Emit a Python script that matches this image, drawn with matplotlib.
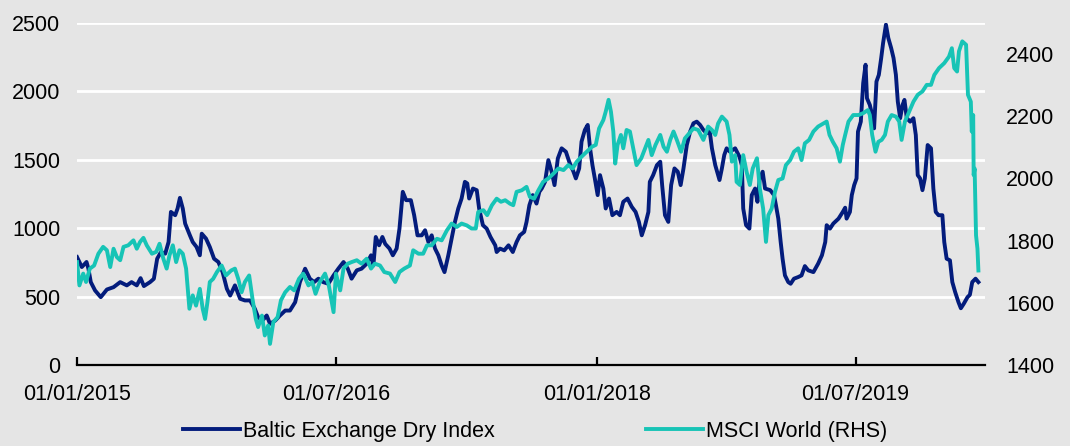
import matplotlib
matplotlib.use('Agg')
import matplotlib.pyplot as plt
import pandas as pd

start_date = pd.Timestamp('2015-01-01')
end_date = pd.Timestamp('2020-03-30')

# Baltic Exchange Dry Index (left axis) - days since 1 Jan 2015, values
bdi_day = [0, 10, 20, 24, 29, 38, 50, 63, 77, 91, 105, 115, 126, 134, 141, 154, 162, 169, 177, 186,
           193, 198, 207, 212, 217, 223, 228, 238, 244, 252, 259, 263, 272, 280, 289, 298, 307, 316, 323, 333,
           344, 354, 365, 375, 382, 391, 400, 407, 418, 428, 439, 449, 460, 470, 481, 491, 500, 509, 519, 530,
           541, 551, 562, 571, 579, 590, 600, 611, 620, 625, 630, 637, 644, 650, 659, 666, 674, 680, 687, 694,
           704, 711, 718, 727, 734, 741, 748, 755, 762, 769, 775, 783, 790, 797, 804, 811, 818, 823, 827, 835,
           843, 848, 856, 864, 872, 882, 885, 892, 901, 910, 919, 927, 934, 943, 948, 954, 961, 969, 975, 980,
           987, 994, 1001, 1007, 1014, 1022, 1031, 1038, 1047, 1052, 1059, 1064, 1071, 1077, 1082, 1087, 1092, 1098, 1103, 1110,
           1115, 1122, 1129, 1138, 1145, 1152, 1161, 1170, 1178, 1185, 1191, 1198, 1205, 1208, 1215, 1223, 1230, 1234, 1240, 1247,
           1253, 1260, 1267, 1273, 1279, 1286, 1293, 1300, 1307, 1314, 1321, 1328, 1334, 1339, 1346, 1355, 1360, 1365, 1370, 1377,
           1388, 1397, 1402, 1405, 1411, 1418, 1423, 1430, 1435, 1440, 1446, 1451, 1462, 1470, 1474, 1479, 1484, 1488, 1493, 1500,
           1505, 1512, 1521, 1528, 1535, 1542, 1553, 1563, 1571, 1578, 1581, 1588, 1595, 1606, 1615, 1620, 1623, 1630, 1634, 1639,
           1644, 1647, 1653, 1658, 1663, 1666, 1672, 1677, 1681, 1686, 1691, 1696, 1700, 1706, 1711, 1717, 1722, 1727, 1731, 1736,
           1741, 1745, 1750, 1757, 1764, 1769, 1773, 1778, 1783, 1788, 1794, 1801, 1806, 1811, 1817, 1825, 1829, 1834, 1841, 1846,
           1852, 1859, 1864, 1870, 1878, 1883, 1888, 1895, 1901]
bdi_val = [789, 716, 753, 704, 606, 545, 496, 552, 569, 606, 582, 606, 582, 635, 577, 606, 630, 777, 826, 814,
           899, 1119, 1095, 1144, 1222, 1144, 1034, 948, 899, 863, 802, 960, 924, 863, 777, 753, 679, 557, 508, 582,
           484, 472, 472, 411, 349, 325, 362, 301, 325, 362, 398, 398, 459, 606, 704, 631, 606, 631, 606, 594,
           655, 704, 753, 704, 631, 692, 704, 741, 802, 728, 936, 875, 936, 885, 851, 802, 851, 997, 1266, 1205,
           1205, 1095, 948, 948, 985, 899, 948, 851, 802, 728, 679, 802, 924, 1046, 1144, 1217, 1339, 1327, 1217, 1290,
           1278, 1144, 1022, 997, 936, 875, 826, 851, 838, 875, 826, 899, 948, 973, 1046, 1168, 1242, 1180, 1266, 1290,
           1339, 1498, 1413, 1315, 1510, 1584, 1559, 1486, 1413, 1364, 1437, 1633, 1718, 1755, 1584, 1461, 1364, 1242, 1388, 1290,
           1144, 1217, 1095, 1119, 1095, 1193, 1217, 1156, 1119, 1046, 948, 1022, 1119, 1339, 1388, 1461, 1486, 1315, 1095, 1046,
           1315, 1437, 1413, 1315, 1437, 1608, 1706, 1767, 1779, 1755, 1718, 1694, 1718, 1584, 1461, 1352, 1437, 1535, 1584, 1559,
           1584, 1523, 1461, 1144, 1022, 997, 1242, 1290, 1193, 1364, 1413, 1290, 1278, 1242, 1168, 1070, 899, 777, 655, 606,
           594, 631, 643, 655, 723, 692, 679, 741, 802, 899, 1022, 997, 1034, 1070, 1119, 1150, 1070, 1119, 1242, 1315,
           1364, 1706, 1779, 2060, 2195, 1950, 1901, 1828, 1730, 2072, 2121, 2244, 2354, 2488, 2390, 2317, 2244, 2121, 1926, 1804,
           1901, 1938, 1804, 1779, 1804, 1681, 1388, 1364, 1278, 1364, 1608, 1584, 1290, 1119, 1095, 1095, 899, 777, 765, 606,
           533, 459, 415, 447, 496, 513, 606, 631, 606]

# MSCI World (right axis) - days since 1 Jan 2015, values
msci_day = [0, 5, 13, 19, 27, 36, 45, 55, 63, 70, 77, 84, 91, 98, 108, 119, 126, 133, 140, 147,
            158, 167, 174, 182, 189, 195, 202, 209, 216, 223, 230, 237, 244, 251, 259, 265, 270, 275, 280, 287,
            295, 305, 314, 325, 333, 340, 347, 354, 363, 370, 377, 382, 390, 396, 403, 407, 414, 423, 430, 439,
            449, 458, 468, 477, 488, 496, 503, 512, 523, 531, 541, 546, 555, 562, 571, 579, 590, 600, 611, 620,
            628, 639, 648, 660, 671, 680, 690, 702, 709, 720, 730, 738, 748, 759, 769, 780, 790, 801, 811, 822,
            832, 841, 846, 857, 865, 875, 885, 894, 903, 913, 920, 927, 938, 948, 955, 964, 973, 983, 994, 1005,
            1015, 1026, 1036, 1045, 1054, 1064, 1075, 1086, 1094, 1101, 1110, 1115, 1121, 1126, 1131, 1135, 1140, 1147, 1152, 1159,
            1166, 1173, 1180, 1190, 1198, 1205, 1212, 1220, 1230, 1237, 1244, 1251, 1258, 1265, 1274, 1282, 1291, 1300, 1310, 1321,
            1331, 1339, 1346, 1352, 1360, 1370, 1376, 1381, 1388, 1391, 1398, 1405, 1412, 1419, 1425, 1434, 1440, 1447, 1453, 1458,
            1465, 1472, 1479, 1488, 1495, 1504, 1512, 1521, 1528, 1535, 1544, 1553, 1563, 1574, 1581, 1587, 1594, 1602, 1609, 1615,
            1620, 1627, 1637, 1648, 1658, 1668, 1672, 1677, 1684, 1690, 1697, 1704, 1710, 1718, 1727, 1734, 1739, 1746, 1755, 1764,
            1773, 1783, 1792, 1801, 1808, 1818, 1829, 1839, 1845, 1850, 1856, 1860, 1867, 1875, 1879, 1885, 1887, 1890, 1891, 1893,
            1896, 1899, 1901]
msci_val = [1731, 1656, 1694, 1667, 1710, 1720, 1758, 1780, 1769, 1715, 1774, 1747, 1737, 1780, 1785, 1801, 1774, 1796, 1809, 1785,
            1758, 1764, 1790, 1742, 1710, 1753, 1785, 1731, 1769, 1758, 1710, 1581, 1624, 1591, 1645, 1581, 1548, 1602, 1667, 1677,
            1699, 1720, 1688, 1704, 1710, 1677, 1634, 1667, 1688, 1613, 1548, 1522, 1559, 1495, 1527, 1468, 1538, 1554, 1608, 1634,
            1651, 1640, 1677, 1694, 1656, 1667, 1629, 1667, 1694, 1656, 1570, 1694, 1640, 1710, 1726, 1731, 1737, 1726, 1742, 1710,
            1726, 1720, 1699, 1694, 1667, 1699, 1710, 1720, 1769, 1758, 1758, 1785, 1785, 1806, 1801, 1833, 1855, 1844, 1855, 1849,
            1839, 1839, 1892, 1898, 1882, 1914, 1935, 1925, 1930, 1919, 1914, 1957, 1962, 1973, 1941, 1935, 1962, 1989, 2000, 2016,
            2032, 2027, 2043, 2032, 2054, 2070, 2086, 2102, 2108, 2161, 2188, 2215, 2253, 2215, 2151, 2048, 2108, 2140, 2097, 2156,
            2151, 2097, 2043, 2065, 2097, 2124, 2075, 2108, 2140, 2102, 2086, 2124, 2151, 2124, 2086, 2129, 2145, 2161, 2156, 2124,
            2167, 2156, 2140, 2177, 2199, 2183, 2140, 2054, 2075, 1989, 1979, 2075, 2022, 1979, 2032, 2065, 1968, 1903, 1796, 1882,
            1903, 1957, 1995, 2000, 2043, 2059, 2086, 2097, 2059, 2113, 2124, 2151, 2167, 2177, 2183, 2140, 2118, 2097, 2054, 2108,
            2140, 2183, 2204, 2204, 2210, 2220, 2204, 2140, 2086, 2118, 2124, 2140, 2183, 2204, 2199, 2183, 2124, 2183, 2215, 2247,
            2269, 2280, 2301, 2301, 2333, 2355, 2371, 2392, 2419, 2355, 2344, 2409, 2441, 2430, 2269, 2247, 2151, 2204, 2011, 2032,
            1817, 1774, 1704]

x_tick_dates = ['2015-01-01', '2016-07-01', '2018-01-01', '2019-07-01']
x_tick_labels = ['01/01/2015', '01/07/2016', '01/01/2018', '01/07/2019']
left_ticks = [0, 500, 1000, 1500, 2000, 2500]
right_ticks = [1400, 1600, 1800, 2000, 2200, 2400]
series_names = ['Baltic Exchange Dry Index', 'MSCI World (RHS)']

plt.rcParams['font.family'] = ['Liberation Sans', 'DejaVu Sans']
BG = '#e5e5e5'
NAVY = '#031c7c'
TEAL = '#17c4b6'
FS = 15.5

fig = plt.figure(figsize=(10.7, 4.46), dpi=100, facecolor=BG)
ax = fig.add_axes([0.072, 0.1816, 0.8486, 0.7668])
ax.set_facecolor(BG)
ax2 = ax.twinx()

bdi_dates = start_date + pd.to_timedelta(bdi_day, unit='D')
msci_dates = start_date + pd.to_timedelta(msci_day, unit='D')

l1, = ax.plot(bdi_dates, bdi_val, color=NAVY, lw=2.8, solid_joinstyle='round', label=series_names[0])
l2, = ax2.plot(msci_dates, msci_val, color=TEAL, lw=2.8, solid_joinstyle='round', label=series_names[1])

ax.set_xlim(start_date, end_date)
ax.set_ylim(0, 2500)
ax2.set_ylim(1400, 2500)

ax.set_yticks(left_ticks)
ax2.set_yticks(right_ticks)
ax.set_xticks(pd.to_datetime(x_tick_dates))
ax.set_xticklabels(x_tick_labels)

ax.yaxis.grid(True, color='white', lw=2)
ax.set_axisbelow(True)

for a in (ax, ax2):
    for s in ('top', 'left', 'right'):
        a.spines[s].set_visible(False)
ax2.spines['bottom'].set_visible(False)
ax.spines['bottom'].set_color('black')
ax.spines['bottom'].set_linewidth(1.6)

ax.tick_params(axis='y', length=0, pad=12, labelsize=FS, colors='black')
ax2.tick_params(axis='y', length=0, pad=15, labelsize=FS, colors='black')
ax.tick_params(axis='x', direction='in', length=6, width=1.6, pad=13.5, labelsize=FS, colors='black')

fig.legend(handles=[l1, l2], labels=series_names, loc='center', bbox_to_anchor=(0.5, 0.033),
           ncol=2, frameon=False, fontsize=FS, handlelength=2.65, handletextpad=0.15,
           columnspacing=7.0, borderpad=0, borderaxespad=0)

fig.savefig('out.png', dpi=100, facecolor=BG)
